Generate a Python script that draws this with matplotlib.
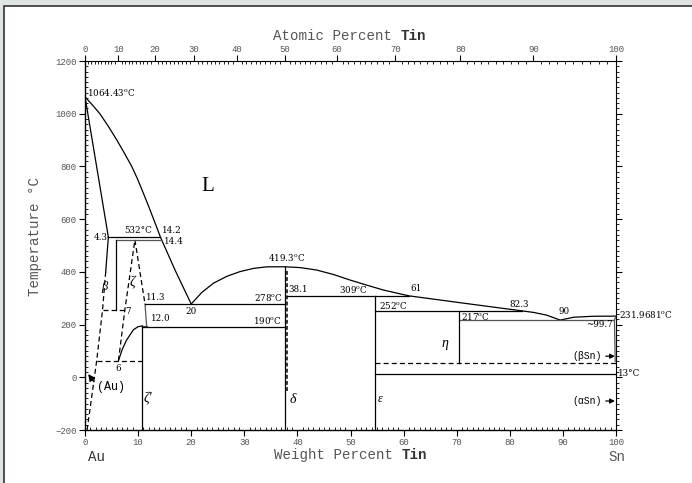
import numpy as np
import matplotlib
matplotlib.use("Agg")
import matplotlib.pyplot as plt
from matplotlib.patches import Rectangle

# --- phase boundaries, weight percent Sn vs temperature (deg C) ---
liq_au_x = [0, 1.4, 2.8, 4.4, 6.0, 7.4, 8.8, 9.9, 10.9, 11.9, 12.9, 14.2, 17.0, 20.0]
liq_au_T = [1064.43, 1033, 1000, 952, 900, 851, 800, 752, 703, 653, 601, 532, 405, 278]

liq_mid_x = [20.0, 22.0, 24.2, 26.7, 29.2, 31.7, 34.2, 37.7, 40.6, 43.6, 46.8, 49.9,
             53.0, 56.2, 61.0, 71.0, 82.3, 84.5, 86.9, 89.5, 92.0, 95.7, 99.7, 100]
liq_mid_T = [278, 322, 357, 383, 401, 413, 419, 419.3, 416, 407, 390, 369,
             350, 331, 309, 282, 252, 246, 236, 217, 227.7, 231.5, 232, 231.97]

sol_au_x = [0, 4.4]
sol_au_T = [1064.43, 532]

beta_left_x = [4.4, 3.9]
beta_left_T = [532, 400]
au_solvus_x = [3.9, 3.3, 2.2, 0.4]
au_solvus_T = [400, 255, 63, -200]

zeta_x = [6.3, 7.5, 9.4, 11.3]
zeta_T = [63, 255, 521, 278]

zeta1_x = [6.3, 7.0, 7.8, 9.1, 10.0, 10.8]
zeta1_T = [63, 105, 140, 180, 192, 195]

au_arrow_xy = (0.6, 12)

# horizontal invariants
iso_x0 = [4.4, 5.8, 3.3, 2.2, 11.3, 10.8, 10.8, 38.1, 54.6, 70.5, 54.6, 54.6]
iso_x1 = [14.2, 14.4, 7.3, 10.8, 37.7, 11.6, 37.7, 61.0, 82.3, 99.7, 100, 100]
iso_T = [532, 521, 255, 63, 278, 195, 190, 309, 252, 217, 55, 13]
iso_ls = ['-', '-', '--', '--', '-', '-', '-', '-', '-', '-', '--', '-']
iso_c = ['k', '#555555', 'k', 'k', 'k', '#555555', 'k', 'k', 'k', '#555555', 'k', 'k']

# vertical boundaries
vert_x = [5.8, 10.8, 37.7, 38.1, 54.6, 70.5]
vert_T0 = [521, 195, 419.3, 405, 309, 252]
vert_T1 = [255, -200, -200, -60, -200, 55]
vert_ls = ['-', '-', '-', '--', '-', '-']

zeta_lo_x = [11.3, 11.6]
zeta_lo_T = [278, 195]
sn_solvus_x = [100, 99.7, 99.8, 99.85]
sn_solvus_T = [231.97, 217, 120, 60]

# labels
num_labels = [
    ("4.3", 4.2, 532, 'right'), ("532°C", 10.0, 557, 'center'),
    ("14.2", 14.5, 557, 'left'), ("14.4", 14.9, 514, 'left'),
    ("7", 7.5, 248, 'left'), ("6", 6.2, 33, 'center'),
    ("11.3", 11.4, 302, 'left'), ("12.0", 12.4, 222, 'left'),
    ("20", 20.0, 250, 'center'), ("278$^\\mathregular{o}$C", 37.3, 302, 'right'),
    ("190$^\\mathregular{o}$C", 37.0, 214, 'right'),
    ("419.3$^\\mathregular{o}$C", 38.0, 456, 'center'),
    ("38.1", 38.3, 334, 'left'), ("309$^\\mathregular{o}$C", 50.5, 334, 'center'),
    ("61", 62.3, 338, 'center'), ("252$^\\mathregular{o}$C", 55.3, 272, 'left'),
    ("82.3", 81.8, 278, 'center'), ("90", 90.3, 250, 'center'),
    ("217$^\\mathregular{o}$C", 70.8, 230, 'left'),
    ("~99.7", 99.4, 200, 'right'),
]
phase_labels = [("β", 3.6, 342, 9), ("ζ", 9.0, 362, 10), ("ζ′", 11.8, -78, 10),
                ("δ", 39.1, -85, 10), ("ε", 55.6, -82, 9), ("η", 67.8, 130, 10)]

at_ticks = np.arange(0, 101, 10)

M_AU, M_SN = 196.97, 118.71


def wt2at(w):
    w = np.clip(np.asarray(w, dtype=float), 0, 100)
    a = w / M_SN
    b = (100 - w) / M_AU
    return 100 * a / (a + b)


def at2wt(x):
    x = np.clip(np.asarray(x, dtype=float), 0, 100)
    a = x * M_SN
    b = (100 - x) * M_AU
    return 100 * a / (a + b)


serif = 'DejaVu Serif'
greek = 'Liberation Serif'
mono = 'Liberation Mono'
grey = '#555555'
fs_num = 6.3

fig = plt.figure(figsize=(6.92, 4.83), dpi=100)
fig.patch.set_facecolor('#dfe5e2')
fig.patches.append(Rectangle((4 / 692, -0.02), 1.1, 1 - 6 / 483 + 0.02,
                             transform=fig.transFigure, facecolor='white',
                             edgecolor='#333333', lw=1.2, zorder=-5))

ax = fig.add_axes([85 / 692, 1 - 430 / 483, 531 / 692, 369 / 483])
ax.set_facecolor('none')

lw = 0.9
ax.plot(liq_au_x, liq_au_T, 'k', lw=lw)
ax.plot(liq_mid_x, liq_mid_T, 'k', lw=lw)
ax.plot(sol_au_x, sol_au_T, 'k', lw=lw)
ax.plot(beta_left_x, beta_left_T, 'k', lw=lw)
ax.plot(au_solvus_x, au_solvus_T, 'k--', lw=lw, dashes=(4, 2.5))
ax.plot(zeta_x, zeta_T, 'k--', lw=lw, dashes=(4, 2.5))
ax.plot(zeta1_x, zeta1_T, 'k', lw=lw)
ax.plot(zeta_lo_x, zeta_lo_T, color=grey, lw=lw)
ax.plot(sn_solvus_x, sn_solvus_T, color=grey, lw=lw)

for x0, x1, t, ls, c in zip(iso_x0, iso_x1, iso_T, iso_ls, iso_c):
    if ls == '--':
        ax.plot([x0, x1], [t, t], color=c, lw=lw, ls='--', dashes=(4, 2.5))
    else:
        ax.plot([x0, x1], [t, t], color=c, lw=lw)

for x, t0, t1, ls in zip(vert_x, vert_T0, vert_T1, vert_ls):
    if ls == '--':
        ax.plot([x, x], [t0, t1], 'k', lw=1.1, ls='--', dashes=(2.5, 1.5))
    else:
        ax.plot([x, x], [t0, t1], 'k', lw=lw)

ax.set_xlim(0, 100)
ax.set_ylim(-200, 1200)
ax.set_xticks(np.arange(0, 101, 10))
ax.set_xticks(np.arange(0, 101, 1), minor=True)
ax.set_yticks(np.arange(-200, 1201, 200))
ax.set_yticks(np.arange(-200, 1201, 20), minor=True)
ax.tick_params(which='major', direction='out', length=4, width=0.8,
               labelsize=6.5, labelcolor=grey, pad=2)
ax.tick_params(which='minor', direction='in', length=2.5, width=0.6)
for lab in ax.get_xticklabels() + ax.get_yticklabels():
    lab.set_fontfamily(mono)
ax.spines['right'].set_visible(False)
ax.spines['top'].set_visible(False)
for s in ['left', 'bottom']:
    ax.spines[s].set_linewidth(1.0)

top = ax.secondary_xaxis('top', functions=(wt2at, at2wt))
top.set_xticks(at_ticks)
top.set_xticks(np.arange(0, 101, 1), minor=True)
top.tick_params(which='major', direction='out', length=4, width=0.8,
                labelsize=6.5, labelcolor=grey, pad=1)
top.tick_params(which='minor', direction='in', length=2.5, width=0.6)
for lab in top.get_xticklabels():
    lab.set_fontfamily(mono)

right = ax.secondary_yaxis('right')
right.set_yticks(np.arange(-200, 1201, 200))
right.set_yticks(np.arange(-200, 1201, 20), minor=True)
right.tick_params(which='major', direction='out', length=4, width=0.8,
                  labelright=False)
right.tick_params(which='minor', direction='out', length=2.5, width=0.6)

# axis titles
fs_ax = 10.2
t1 = fig.text(273 / 692, 1 - 36 / 483, "Atomic Percent ", family=mono,
              fontsize=fs_ax, color=grey, va='center', ha='left')
ax.annotate("Tin", xy=(1, 0), xycoords=t1, va='bottom', ha='left',
            family=mono, fontsize=fs_ax, fontweight='bold', color='#333333',
            annotation_clip=False)
t2 = fig.text(274 / 692, 1 - 455 / 483, "Weight Percent ", family=mono,
              fontsize=fs_ax, color=grey, va='center', ha='left')
ax.annotate("Tin", xy=(1, 0), xycoords=t2, va='bottom', ha='left',
            family=mono, fontsize=fs_ax, fontweight='bold', color='#333333',
            annotation_clip=False)
fig.text(97 / 692, 1 - 457 / 483, "Au", family=mono, fontsize=fs_ax,
         color='#333333', ha='center', va='center')
fig.text(617 / 692, 1 - 457 / 483, "Sn", family=mono, fontsize=fs_ax,
         color=grey, ha='center', va='center')
fig.text(35 / 692, 1 - 236 / 483, "Temperature °C", family=mono, fontsize=fs_ax,
         color=grey, rotation=90, ha='center', va='center')

# annotations
ax.text(0.3, 1080, "1064.43$^\\mathregular{o}$C", family=serif, fontsize=fs_num,
        ha='left', va='center')
ax.text(23.2, 722, "L", family=greek, fontsize=15, ha='center', va='center')
for s, x, t, ha in num_labels:
    ax.text(x, t, s, family=serif, fontsize=fs_num, ha=ha, va='center')
for s, x, t, fs in phase_labels:
    ax.text(x, t, s, family=greek, style='italic', fontsize=fs,
            ha='center', va='center')

ax.text(100.6, 240, "231.9681$^\\mathregular{o}$C", family=serif, fontsize=fs_num,
        ha='left', va='center', clip_on=False)
ax.text(100.4, 15, "13°C", family=serif, fontsize=fs_num, ha='left',
        va='center', clip_on=False)

arrow = dict(arrowstyle='-|>', color='k', lw=0.9, mutation_scale=7,
             shrinkA=1, shrinkB=0)
ax.annotate("(βSn)", xy=(99.8, 80), xytext=(97.3, 80), family=mono,
            fontsize=7, ha='right', va='center', arrowprops=arrow)
ax.annotate("(αSn)", xy=(99.8, -90), xytext=(97.3, -90), family=mono,
            fontsize=7, ha='right', va='center', arrowprops=arrow)
ax.annotate("(Au)", xy=au_arrow_xy, xytext=(2.2, -36), family=mono,
            fontsize=8.5, ha='left', va='center',
            arrowprops=dict(arrowstyle='-|>', color='k', lw=0.9,
                            mutation_scale=10, shrinkA=0, shrinkB=0,
                            relpos=(0, 0.6)))

fig.savefig("out.png", dpi=100, facecolor=fig.get_facecolor())
